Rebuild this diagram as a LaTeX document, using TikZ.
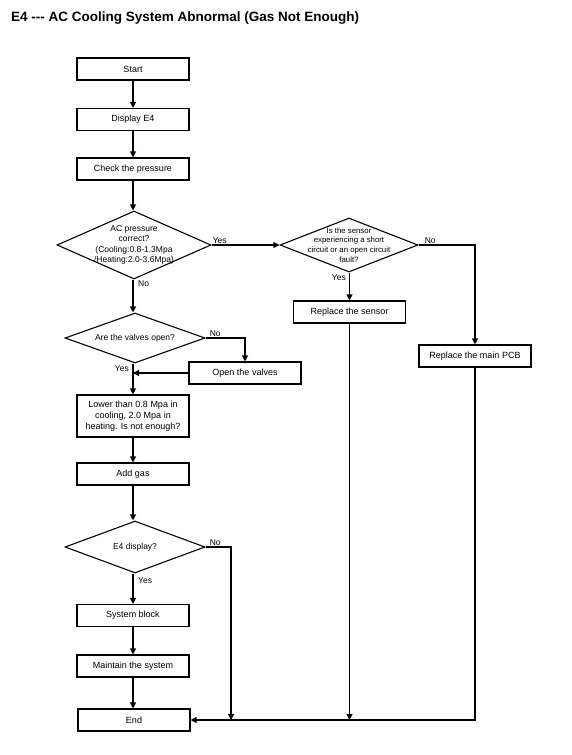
\documentclass[tikz,border=0pt]{standalone}
\usepackage{fontspec}
\setmainfont{Liberation Sans}
\usetikzlibrary{shapes.geometric,arrows.meta}

\tikzset{
  box/.style={draw, line width=1.1pt, minimum width=112pt, minimum height=22pt,
    inner sep=1pt, align=center, font=\fontsize{9}{11}\selectfont},
  dec/.style={draw, diamond, line width=1.1pt, inner sep=0pt},
  dectext/.style={align=center, font=\fontsize{8.5}{10.5}\selectfont},
  arr/.style={line width=1.1pt, -{Triangle[length=6pt,width=6pt]}},
  lbl/.style={font=\fontsize{8.5}{10}\selectfont, inner sep=1pt}
}

\begin{document}
\begin{tikzpicture}[x=1pt,y=-1pt]

% Page frame
\useasboundingbox (0,0) rectangle (571,755);

% Title
\node[anchor=base west, font=\bfseries\fontsize{13.5}{15}\selectfont, inner sep=0pt]
  (title) at (11,21) {E4 {-}{-}{-} AC Cooling System Abnormal (Gas Not Enough)};

% Main column
\node[box] (start) at (133,69) {Start};
\node[box] (disp)  at (133,119.5) {Display E4};
\node[box] (chk)   at (133,169) {Check the pressure};

\node[dec, minimum width=154pt, minimum height=68pt] (q1) at (134,245) {};
\node[dectext] at (q1.center) {AC pressure\\correct?\\(Cooling:0.8-1.3Mpa\\/Heating:2.0-3.6Mpa)};

\node[dec, minimum width=140pt, minimum height=50pt] (q3) at (135,338) {};
\node[dectext] at (q3.center) {Are the valves open?};

\node[box] (open) at (245,373) {Open the valves};
\node[box, minimum height=42pt] (low) at (133,416) {Lower than 0.8 Mpa in\\cooling, 2.0 Mpa in\\heating. Is not enough?};
\node[box] (gas)   at (133,474) {Add gas};

\node[dec, minimum width=140pt, minimum height=52pt] (q4) at (135,547) {};
\node[dectext] at (q4.center) {E4 display?};

\node[box] (sys)   at (133,615.5) {System block};
\node[box] (maint) at (133,666) {Maintain the system};
\node[box] (end)   at (134,720) {End};

% Right branch
\node[dec, minimum width=138pt, minimum height=54pt] (q2) at (349,245) {};
\node[dectext, font=\fontsize{7.8}{9.6}\selectfont] at (q2.center)
  {Is the sensor\\experiencing a short\\circuit or an open circuit\\fault?};
\node[box] (sensor) at (349.5,312) {Replace the sensor};
\node[box] (pcb)    at (475,356) {Replace the main PCB};

% Join points
\coordinate (nx) at (231,0);

% Connectors
\draw[arr] (start) -- (disp);
\draw[arr] (disp) -- (chk);
\draw[arr] (chk) -- (q1.north -| chk.south);
\draw[arr] (q1.south -| start.south) -- (q3.north -| start.south);
\draw[arr] (q3.south -| start.south) -- (low.north -| start.south);
\draw[arr] (q3.east) -| (open.north);
\draw[arr] (open.west) -- (open.west -| low.north);
\draw[arr] (low) -- (gas);
\draw[arr] (gas.south) -- (q4.north -| gas.south);
\draw[arr] (q4.south -| sys.north) -- (sys.north);
\draw[arr] (sys) -- (maint);
\draw[arr] (maint.south) -- (end.north -| maint.south);
\draw[arr] (q1.east) -- (q2.west);
\draw[arr] (q2.south -| sensor.north) -- (sensor.north);
\draw[arr] (q2.east) -| (pcb.north);
\draw[arr] (q4.east) -| (end.east -| nx);
\draw[arr] (sensor.south) -- (sensor.south |- end.east);
\draw[arr] (pcb.south) |- (end.east);

% Labels
\node[lbl, anchor=south west] at (q1.east) {Yes};
\node[lbl, anchor=north west] at ([xshift=3pt]q1.south) {No};
\node[lbl, anchor=south west] at ([xshift=3pt]q3.east) {No};
\node[lbl, anchor=east] at (130,369) {Yes};
\node[lbl, anchor=south west] at ([xshift=3pt]q4.east) {No};
\node[lbl, anchor=north west] at ([xshift=2pt,yshift=-3pt]q4.south) {Yes};
\node[lbl, anchor=north east] at ([xshift=-2pt,yshift=-1pt]q2.south) {Yes};
\node[lbl, anchor=south west] at ([xshift=5pt]q2.east) {No};

\end{tikzpicture}
\end{document}
